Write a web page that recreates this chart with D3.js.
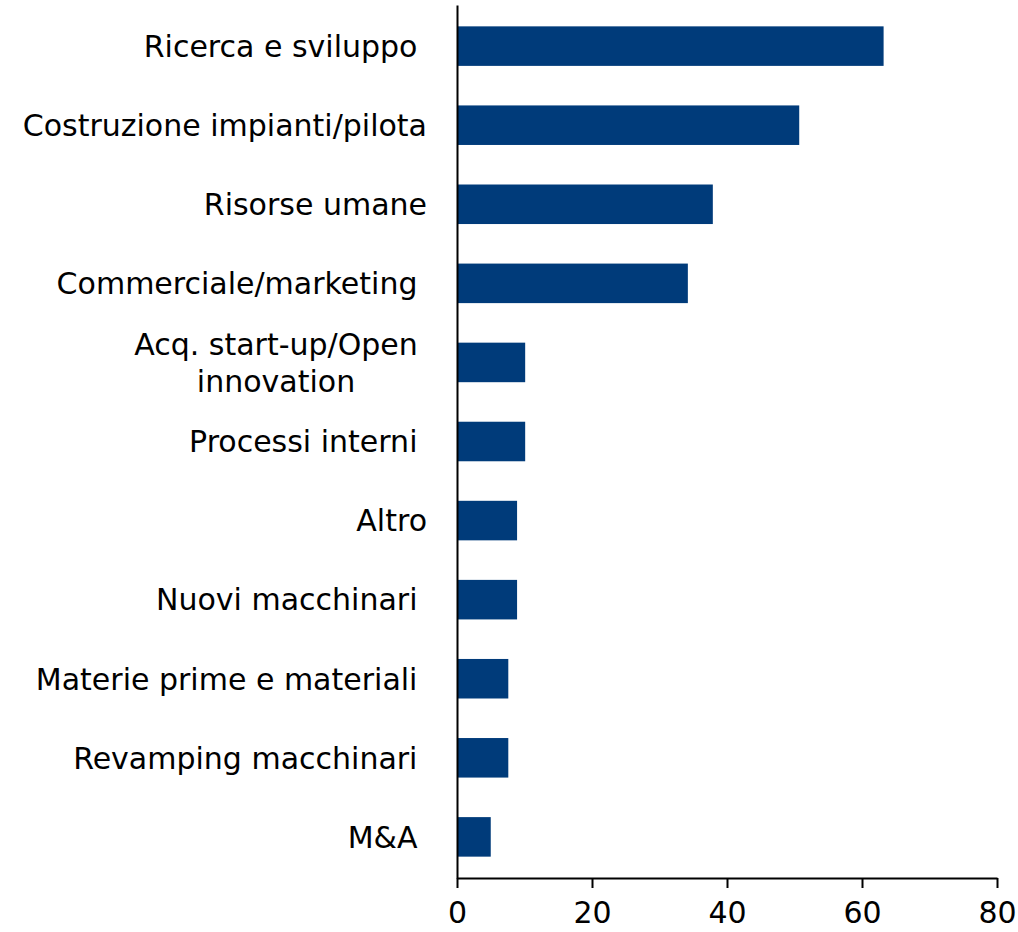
<!DOCTYPE html>
<html>
<head>
<meta charset="utf-8">
<script src="https://cdn.jsdelivr.net/npm/d3@7"></script>
<style>
  html, body { margin: 0; padding: 0; background: #fff; }
  svg text { font-family: "DejaVu Sans", "Noto Sans", sans-serif; fill: #000; white-space: pre; }
</style>
</head>
<body>
<svg id="chart" width="1018" height="932"></svg>
<script>
const categories = [
  "Ricerca e sviluppo ",
  "Costruzione impianti/pilota",
  "Risorse umane",
  "Commerciale/marketing ",
  "Acq. start-up/Open|innovation",
  "Processi interni ",
  "Altro",
  "Nuovi macchinari ",
  "Materie prime e materiali ",
  "Revamping macchinari ",
  "M&A "
];
const values = [63.2, 50.7, 37.9, 34.2, 10.1, 10.1, 8.9, 8.9, 7.6, 7.6, 5.0];
const xTicks = [0, 20, 40, 60, 80];

const svg = d3.select("#chart");
const x0 = 457, x1 = 997, yTop = 5, yBot = 878;

const x = d3.scaleLinear().domain([0, 80]).range([x0, x1]);
const y = d3.scaleBand().domain(categories).range([yTop, yBot]).paddingInner(0.5).paddingOuter(0.27);

svg.append("g").selectAll("rect").data(categories).join("rect")
  .attr("x", x(0))
  .attr("y", d => y(d))
  .attr("width", (d, i) => x(values[i]) - x(0))
  .attr("height", y.bandwidth())
  .attr("fill", "#003b7a");

// x axis
const xAxis = svg.append("g").attr("transform", `translate(0,${yBot})`)
  .call(d3.axisBottom(x).tickValues(xTicks).tickSize(10).tickSizeOuter(0).tickPadding(14));
xAxis.select(".domain").attr("stroke", "#000").attr("stroke-width", 2);
xAxis.selectAll(".tick line").attr("stroke", "#000").attr("stroke-width", 2);
xAxis.selectAll(".tick text").style("font-size", "30px").attr("dy", "0.71em");

// y axis
const yAxis = svg.append("g").attr("transform", `translate(${x0},0)`)
  .call(d3.axisLeft(y).tickSize(0).tickSizeOuter(0).tickPadding(30));
yAxis.select(".domain").attr("stroke", "#000").attr("stroke-width", 2);
yAxis.selectAll(".tick text")
  .style("font-size", "30px")
  .attr("dy", "0.36em")
  .each(function(d) {
    const parts = d.split("|");
    const t = d3.select(this);
    if (parts.length > 1) {
      t.text(null).attr("text-anchor", "middle").attr("x", -181).attr("dy", null);
      const offs = [-7.5, 29.5];
      parts.forEach((p, k) => {
        t.append("tspan").attr("x", -181).attr("y", offs[k]).text(p);
      });
    } else {
      t.text(d);
    }
  });
</script>
</body>
</html>
